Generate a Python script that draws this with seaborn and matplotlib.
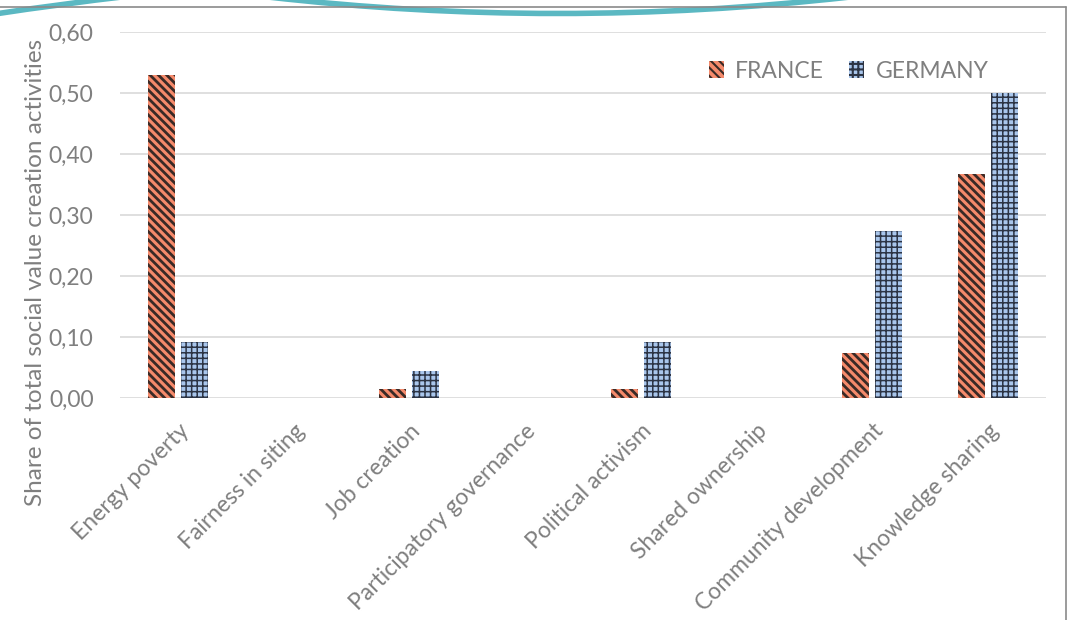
import matplotlib
matplotlib.use("Agg")
import matplotlib.pyplot as plt
import pandas as pd
import seaborn as sns
from matplotlib.patches import Patch, PathPatch
from matplotlib.path import Path
from matplotlib.lines import Line2D
from matplotlib.ticker import FuncFormatter

# Share of social value creation activities per category
categories = [
    "Energy poverty",
    "Fairness in siting",
    "Job creation",
    "Participatory governance",
    "Political activism",
    "Shared ownership",
    "Community development",
    "Knowledge sharing",
]
countries = ["FRANCE", "GERMANY"]
france = [0.529, 0.0, 0.015, 0.0, 0.015, 0.0, 0.074, 0.368]
germany = [0.091, 0.0, 0.045, 0.0, 0.091, 0.0, 0.273, 0.500]
y_ticks = [0.0, 0.1, 0.2, 0.3, 0.4, 0.5, 0.6]
y_label = "Share of total social value creation activities"

# styling
TEXT = "#7F7F7F"
GRID = "#D9D9D9"
FACE = {"FRANCE": "#F58A6B", "GERMANY": "#A9C6EC"}
HATCH_COLOR = {"FRANCE": "#3A2A26", "GERMANY": "#2C3444"}
HATCH = {"FRANCE": "\\\\\\\\", "GERMANY": "+++"}
HATCH_LW = {"FRANCE": 2.0, "GERMANY": 1.1}
FS = 16.5

sns.set_theme(style="white")
plt.rcParams["font.family"] = ["Lato", "DejaVu Sans"]
plt.rcParams["hatch.linewidth"] = 1.5

df = pd.DataFrame({
    "category": categories * 2,
    "country": [countries[0]] * len(categories) + [countries[1]] * len(categories),
    "share": france + germany,
})

W, H = 1077, 620
fig = plt.figure(figsize=(W / 100, H / 100), dpi=100)
ax = fig.add_axes([120 / W, 1 - 398 / H, 926 / W, 366 / H])

sns.barplot(
    data=df, x="category", y="share", hue="country",
    order=categories, hue_order=countries,
    palette=[FACE[c] for c in countries], saturation=1,
    width=0.57, gap=0.18, legend=False, ax=ax,
)


def style_hatch(patch, country):
    patch.set_hatch(HATCH[country])
    patch.set_edgecolor(HATCH_COLOR[country])
    patch.set_linewidth(0)
    if hasattr(patch, "set_hatch_linewidth"):
        patch.set_hatch_linewidth(HATCH_LW[country])


for country, container in zip(countries, ax.containers):
    for bar in container:
        style_hatch(bar, country)

ax.set_xlim(-0.5, len(categories) - 0.5)
ax.set_ylim(0, 0.6)
ax.set_yticks(y_ticks)
ax.yaxis.set_major_formatter(FuncFormatter(lambda v, _: f"{v:.2f}".replace(".", ",")))
ax.yaxis.grid(True, color=GRID, linewidth=1.2)
ax.set_axisbelow(True)
sns.despine(ax=ax, left=True, bottom=True)

ax.set_xticks(range(len(categories)))
ax.set_xticklabels(categories, rotation=45, ha="right", va="top",
                   rotation_mode="anchor")
ax.tick_params(axis="both", length=0, labelcolor=TEXT, labelsize=FS)
ax.tick_params(axis="y", pad=19)
ax.tick_params(axis="x", pad=16)
ax.set_xlabel("")
ax.set_ylabel(y_label, color=TEXT, fontsize=17.5)
ax.yaxis.set_label_coords(-0.080, 0.344)

handles = []
for c in countries:
    h = Patch(facecolor=FACE[c], edgecolor=HATCH_COLOR[c], hatch=HATCH[c], linewidth=0)
    if hasattr(h, "set_hatch_linewidth"):
        h.set_hatch_linewidth(HATCH_LW[c])
    handles.append(h)
ax.legend(handles, countries, ncol=2, loc="upper right",
          bbox_to_anchor=(0.960, 0.978), frameon=False,
          handlelength=0.65, handleheight=0.75, handletextpad=0.5,
          columnspacing=1.1, labelcolor=TEXT, fontsize=FS)

# page frame and decorative wave along the top edge
def fx(x):
    return x / W


def fy(y):
    return 1 - y / H


fig.add_artist(Line2D([fx(0), fx(1066)], [fy(7), fy(7)], transform=fig.transFigure,
                      color="#8A8A8A", linewidth=1.2))
fig.add_artist(Line2D([fx(1066), fx(1066)], [fy(7), fy(620)], transform=fig.transFigure,
                      color="#8A8A8A", linewidth=1.2))

teal = "#5BB8C2"
wave1 = Path([(fx(-5), fy(14)), (fx(60), fy(4)), (fx(130), fy(-4))],
             [Path.MOVETO, Path.CURVE3, Path.CURVE3])
wave2 = Path([(fx(268), fy(-3)), (fx(556), fy(30)), (fx(850), fy(-3))],
             [Path.MOVETO, Path.CURVE3, Path.CURVE3])
for p in (wave1, wave2):
    fig.add_artist(PathPatch(p, transform=fig.transFigure, facecolor="none",
                             edgecolor=teal, linewidth=4.0, capstyle="butt"))

fig.savefig("out.png", dpi=100)
